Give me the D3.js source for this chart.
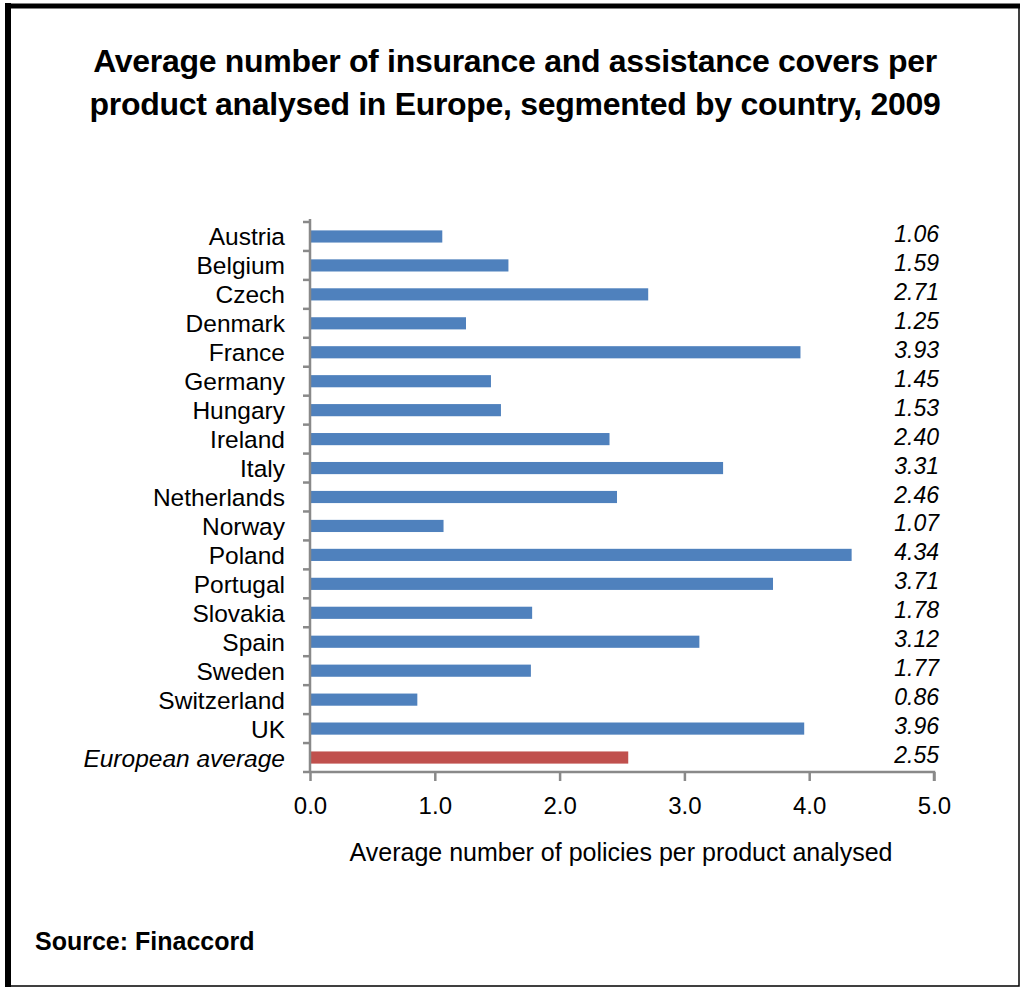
<!DOCTYPE html>
<html>
<head>
<meta charset="utf-8">
<script src="https://cdn.jsdelivr.net/npm/d3@7"></script>
<style>
  body { margin: 0; background: #fff; }
  svg { display: block; font-family: "Liberation Sans", Arial, sans-serif; }
</style>
</head>
<body>
<script>
// data
let countries = ["Austria", "Belgium", "Czech", "Denmark", "France", "Germany", "Hungary",
                 "Ireland", "Italy", "Netherlands", "Norway", "Poland", "Portugal", "Slovakia",
                 "Spain", "Sweden", "Switzerland", "UK", "European average"]
let values = [1.06, 1.59, 2.71, 1.25, 3.93, 1.45, 1.53, 2.40, 3.31, 2.46, 1.07, 4.34,
              3.71, 1.78, 3.12, 1.77, 0.86, 3.96, 2.55]
let xTicks = [0, 1, 2, 3, 4, 5]

let W = 1021, H = 989
let plotL = 310, plotR = 934, plotT = 222, plotB = 772

let data = countries.map((c, i) => ({name: c, value: values[i], avg: c === "European average"}))

let svg = d3.select("body").append("svg")
            .attr("width", W)
            .attr("height", H)

// frame
svg.append("rect")
    .attr("x", 8).attr("y", 6)
    .attr("width", 1011).attr("height", 980)
    .attr("fill", "none")
    .attr("stroke", "#000")
    .attr("stroke-width", 1.5)
svg.append("line").attr("x1", 8).attr("x2", 8).attr("y1", 3).attr("y2", 987)
    .attr("stroke", "#000").attr("stroke-width", 6)
svg.append("line").attr("x1", 5).attr("x2", 1020).attr("y1", 6).attr("y2", 6)
    .attr("stroke", "#000").attr("stroke-width", 5)

// title
let title = svg.append("text")
    .attr("text-anchor", "middle")
    .attr("font-size", 32)
    .attr("font-weight", "bold")
    .attr("letter-spacing", -0.3)
title.append("tspan").attr("x", 515).attr("y", 72)
    .text("Average number of insurance and assistance covers per")
title.append("tspan").attr("x", 515).attr("y", 115)
    .text("product analysed in Europe, segmented by country, 2009")

let x = d3.scaleLinear().domain([0, 5]).range([plotL, plotR])
let y = d3.scaleBand().domain(countries).range([plotT, plotB]).paddingInner(0.58).paddingOuter(0.29)
let yb = d3.scaleBand().domain(countries).range([plotT, plotB])

// bars
svg.selectAll("rect.bar")
    .data(data)
    .enter()
    .append("rect")
    .attr("class", "bar")
    .attr("x", x(0))
    .attr("y", d => y(d.name))
    .attr("width", d => x(d.value) - x(0))
    .attr("height", y.bandwidth())
    .attr("fill", d => d.avg ? "#C0504D" : "#4F81BD")

// x axis
let xAxis = svg.append("g")
    .attr("transform", "translate(0," + plotB + ")")
    .call(d3.axisBottom(x).tickValues(xTicks).tickFormat(d3.format(".1f")).tickSize(9))
xAxis.select(".domain").attr("stroke", "#898989").attr("stroke-width", 2.5)
    .attr("d", "M" + plotL + ",0H" + plotR + "V9")
xAxis.selectAll(".tick line").attr("stroke", "#898989").attr("stroke-width", 2.5)
xAxis.selectAll(".tick text")
    .attr("y", 42).attr("dy", null)
    .attr("font-size", 24).attr("fill", "#000")
    .attr("font-family", "Liberation Sans, Arial, sans-serif")

// y axis: ticks at band boundaries
let bounds = countries.map(c => yb(c)).concat([plotB])
let yAxis = svg.append("g")
yAxis.append("line")
    .attr("x1", plotL).attr("x2", plotL)
    .attr("y1", plotT - 3).attr("y2", plotB)
    .attr("stroke", "#898989").attr("stroke-width", 2.5)
yAxis.selectAll("line.tk")
    .data(bounds)
    .enter()
    .append("line")
    .attr("class", "tk")
    .attr("x1", plotL - 7).attr("x2", plotL)
    .attr("y1", d => d).attr("y2", d => d)
    .attr("stroke", "#898989").attr("stroke-width", 2.5)

// category labels
svg.selectAll("text.cat")
    .data(data)
    .enter()
    .append("text")
    .attr("class", "cat")
    .attr("x", 285)
    .attr("y", d => yb(d.name) + yb.bandwidth() / 2 + 9)
    .attr("text-anchor", "end")
    .attr("font-size", 24.5)
    .attr("font-style", d => d.avg ? "italic" : "normal")
    .text(d => d.name)

// value labels
svg.selectAll("text.val")
    .data(data)
    .enter()
    .append("text")
    .attr("class", "val")
    .attr("x", 939)
    .attr("y", d => yb(d.name) + yb.bandwidth() / 2 + 5.5)
    .attr("text-anchor", "end")
    .attr("font-size", 23)
    .attr("font-style", "italic")
    .text(d => d3.format(".2f")(d.value))

// axis title
svg.append("text")
    .attr("x", 621).attr("y", 861)
    .attr("text-anchor", "middle")
    .attr("font-size", 25)
    .text("Average number of policies per product analysed")

// source
svg.append("text")
    .attr("x", 35).attr("y", 950)
    .attr("font-size", 25)
    .attr("font-weight", "bold")
    .text("Source: Finaccord")
</script>
</body>
</html>
